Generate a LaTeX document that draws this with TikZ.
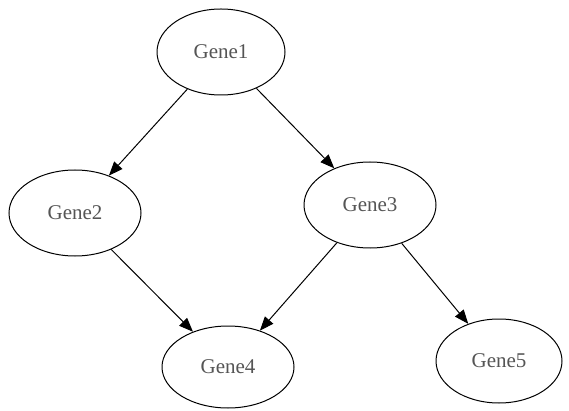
\documentclass[tikz,border=0pt]{standalone}
\usepackage{fontspec}
\setmainfont{Liberation Serif}
\usetikzlibrary{arrows.meta,shapes.geometric}
\definecolor{txtgray}{HTML}{555555}
\tikzset{
  gene/.style={draw=black, line width=1pt, ellipse, inner sep=0pt,
    font=\fontsize{21}{21}\selectfont, text=txtgray},
  edge/.style={draw=black, line width=1pt,
    -{Triangle[length=14pt,width=11pt]}}
}
\begin{document}
\begin{tikzpicture}[x=1pt,y=-1pt]
\useasboundingbox (0,0) rectangle (569,411);
\node[gene, minimum width=128pt, minimum height=86pt] (g1) at (221,52) {Gene1};
\node[gene, minimum width=132pt, minimum height=86pt] (g2) at (75,213) {Gene2};
\node[gene, minimum width=132pt, minimum height=86pt] (g3) at (370,205) {Gene3};
\node[gene, minimum width=132pt, minimum height=82pt] (g4) at (228,367) {Gene4};
\node[gene, minimum width=126pt, minimum height=84pt] (g5) at (499,361) {Gene5};
\draw[edge] (g1) -- (g2);
\draw[edge] (g1) -- (g3);
\draw[edge] (g2) -- (g4);
\draw[edge] (g3) -- (g4);
\draw[edge] (g3) -- (g5);
\end{tikzpicture}
\end{document}
